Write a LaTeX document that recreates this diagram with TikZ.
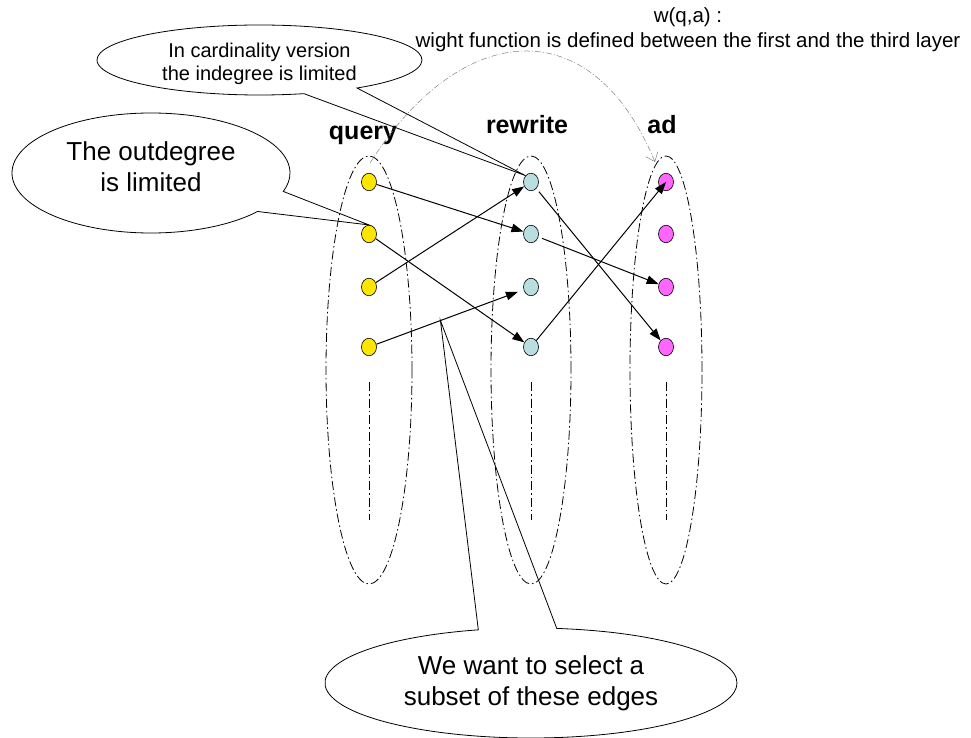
\documentclass[tikz,border=0pt]{standalone}
\usepackage{fontspec}
\setmainfont{Liberation Sans}
\usetikzlibrary{shapes.geometric,shapes.callouts,arrows.meta,calc}
\definecolor{qcol}{HTML}{FFE600}
\definecolor{rcol}{HTML}{B9DEE0}
\definecolor{acol}{HTML}{FF66FF}
\begin{document}
\begin{tikzpicture}[x=1pt,y=-1pt,
  vtx/.style={ellipse, draw, line width=0.6pt, minimum width=15pt, minimum height=17.5pt, inner sep=0pt},
  qv/.style={vtx, fill=qcol},
  rv/.style={vtx, fill=rcol},
  av/.style={vtx, fill=acol},
  colline/.style={line width=0.8pt, dash pattern=on 9pt off 3pt on 1.5pt off 3pt},
  column/.style={ellipse, draw, colline, inner sep=0pt},
  edge/.style={draw, line width=1pt, -{Triangle[length=12pt,width=8.5pt]}},
  lbl/.style={font=\fontsize{25}{30}\selectfont\bfseries, anchor=base, inner sep=0pt},
  bubble/.style={ellipse callout, draw, line width=0.8pt, align=center, inner sep=0pt},
  arcline/.style={draw=gray, line width=0.5pt, dash pattern=on 6pt off 2pt on 1pt off 2pt,
    -{Straight Barb[length=8pt,width=13pt]}}
]
\useasboundingbox (0,0) rectangle (971,738);

% column ellipses
\node[column, minimum width=86pt, minimum height=428pt] (cq) at (369,370) {};
\node[column, minimum width=80pt, minimum height=428pt] (cr) at (531,370) {};
\node[column, minimum width=72pt, minimum height=428pt] (ca) at (666,370) {};
\draw[colline] (369,382) -- (369,520);
\draw[colline] (531,382) -- (531,520);
\draw[colline] (666,382) -- (666,520);

% column labels
\node[lbl] (lq) at (363,140) {query};
\node[lbl] (lr) at (527,134) {rewrite};
\node[lbl] (la) at (662,134) {ad};

% vertices
\node[qv] (q1) at (369,182) {};
\node[qv] (q2) at (369,234) {};
\node[qv] (q3) at (369,287) {};
\node[qv] (q4) at (369,347) {};
\node[rv] (r1) at (531,182) {};
\node[rv] (r2) at (531,234) {};
\node[rv] (r3) at (531,287) {};
\node[rv] (r4) at (531,347) {};
\node[av] (a1) at (666,182) {};
\node[av] (a2) at (666,234) {};
\node[av] (a3) at (666,287) {};
\node[av] (a4) at (666,347) {};

% edges
\draw[edge] (q1) -- (r2);
\draw[edge] (q2) -- (r4);
\draw[edge] (q3) -- (r1);
\draw[edge, shorten >=6pt] (q4) -- coordinate[pos=0.435] (tipB) (r3);
\draw[edge, shorten <=4pt] (r1) -- (a4);
\draw[edge, shorten <=4pt] (r2) -- (a3);
\draw[edge] (r4) -- (a1.center);

% weight arc
\coordinate (arcS) at (370,163);
\coordinate (arcE) at (655,162);
\draw[arcline] (arcS) .. controls (460,21) and (591,7) .. (arcE);
\node[font=\fontsize{20.5}{25}\selectfont, align=center, inner sep=0pt] (wq) at (688,30)
  {w(q,a) :\\wight function is defined between the first and the third layer};

% callouts
\node[bubble, minimum width=325pt, minimum height=70pt,
  callout absolute pointer={(r1.north west)}, callout pointer arc=21,
  font=\fontsize{20}{23}\selectfont] (c1) at (259.5,60)
  {\rule{0pt}{22pt}In cardinality version\\the indegree is limited};
\node[bubble, minimum width=278pt, minimum height=120pt,
  callout absolute pointer={(q2.north)}, callout pointer arc=22,
  font=\fontsize{26}{31}\selectfont, text depth=12pt] (c2) at (151,173)
  {The outdegree\\is limited};
\node[bubble, minimum width=412pt, minimum height=110pt,
  callout absolute pointer={(tipB)}, callout pointer arc=22,
  font=\fontsize{26}{31}\selectfont] (c3) at (531,683)
  {We want to select a\\subset of these edges};
\end{tikzpicture}
\end{document}
